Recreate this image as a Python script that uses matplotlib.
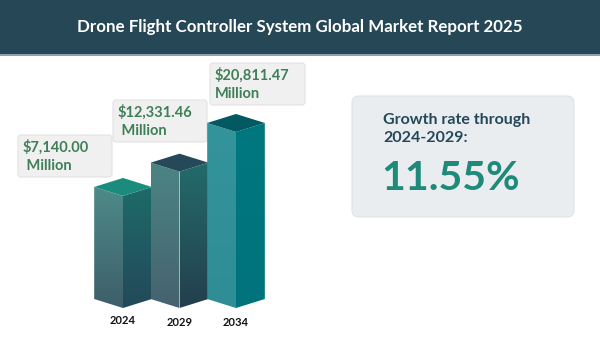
import matplotlib
matplotlib.use("Agg")
import matplotlib.pyplot as plt
import numpy as np
from matplotlib.patches import Polygon, FancyBboxPatch, Rectangle
from matplotlib.colors import LinearSegmentedColormap

# ---- data ----
years = ["2024", "2029", "2034"]
values = [7140.00, 12331.46, 20811.47]
value_labels = ["$7,140.00\n Million", "$12,331.46\n Million", "$20,811.47\nMillion"]
title = "Drone Flight Controller System Global Market Report 2025"
growth_text = "Growth rate through\n2024-2029:"
growth_value = "11.55%"

# ---- styles ----
W, H = 600, 364
FONT = "Lato"
BASELINE = -16800          # visual baseline of the infographic bars
PX_PER_UNIT = 0.00468
left_faces = [("#4d8b88", "#3e5e6a"), ("#4b8584", "#46626e"), ("#34949b", "#2f8d95")]
right_faces = [("#1d6b69", "#23495a"), ("#236b6b", "#233f4e"), ("#00777f", "#00737c")]
top_faces = ["#1a8b7d", "#26495a", "#025962"]
label_boxes = [(18, 135, 94, 42), (113, 100, 94, 42), (210, 63, 95, 42)]  # px x, y(top), w, h
GREEN = "#3f7f57"

fig = plt.figure(figsize=(W / 100, H / 100), dpi=100)
fig.patch.set_facecolor("white")

# overlay axes in pixel coordinates for decorations
deco = fig.add_axes([0, 0, 1, 1])
deco.set_xlim(0, W)
deco.set_ylim(H, 0)
deco.axis("off")

deco.add_patch(Rectangle((0, 0), W, 54, facecolor="#264756", edgecolor="none"))
deco.add_patch(Rectangle((0, 54), W, 2, facecolor="#8fa3ab", edgecolor="none"))
deco.text(W / 2, 27, title, color="white", fontsize=12.2, fontweight="bold",
          family=FONT, ha="center", va="center")

# right panel
deco.add_patch(FancyBboxPatch((352, 96), 222, 121, boxstyle="round,pad=0,rounding_size=7",
                              facecolor="#e9edef", edgecolor="#dde3e6", linewidth=0.8))
deco.text(383, 129, growth_text, color="#24475a", fontsize=11.5, fontweight="bold",
          family=FONT, ha="left", va="center", linespacing=1.45)
deco.text(381, 178, growth_value, color="#1f8a7a", fontsize=29.5, fontweight="bold",
          family=FONT, ha="left", va="center")

# bar axes
ax_left_px, ax_right_px = 63, 296
ax_top_px, ax_bot_px = 60, 335
ax = fig.add_axes([ax_left_px / W, 1 - ax_bot_px / H,
                   (ax_right_px - ax_left_px) / W, (ax_bot_px - ax_top_px) / H])
ax.axis("off")
x_px_per_unit = 56.5
x0_px = 123
xlim = ((ax_left_px - x0_px) / x_px_per_unit, (ax_right_px - x0_px) / x_px_per_unit)
base_px = 308
ylim = (BASELINE - (ax_bot_px - base_px) / PX_PER_UNIT, BASELINE + (base_px - ax_top_px) / PX_PER_UNIT)
ax.set_xlim(*xlim)
ax.set_ylim(*ylim)

hw = 0.51
d = 9 / PX_PER_UNIT


def grad_face(pts, c_top, c_bot, z):
    poly = Polygon(pts, closed=True, facecolor="none", edgecolor="none")
    ax.add_patch(poly)
    xs = [p[0] for p in pts]
    ys = [p[1] for p in pts]
    cmap = LinearSegmentedColormap.from_list("g", [c_bot, c_top])
    grad = np.linspace(0, 1, 256).reshape(-1, 1)
    im = ax.imshow(grad, extent=(min(xs), max(xs), min(ys), max(ys)), origin="lower",
                   cmap=cmap, aspect="auto", zorder=z, interpolation="bilinear")
    im.set_clip_path(poly)


for i, (yr, v) in enumerate(zip(years, values)):
    c = i
    T, B = v, BASELINE
    z = 2 + i
    left = [(c - hw, B + d), (c, B), (c, T), (c - hw, T + d)]
    right = [(c, B), (c + hw, B + d), (c + hw, T + d), (c, T)]
    top = [(c - hw, T + d), (c, T), (c + hw, T + d), (c, T + 2 * d)]
    grad_face(left, left_faces[i][0], left_faces[i][1], z)
    grad_face(right, right_faces[i][0], right_faces[i][1], z)
    ax.add_patch(Polygon(top, closed=True, facecolor=top_faces[i], edgecolor="none", zorder=z))
    ax.text(c, B - (13 + i) / PX_PER_UNIT, yr, ha="center", va="center", fontsize=8,
            fontweight="bold", family=FONT, color="#111111")

ax.set_xlim(*xlim)
ax.set_ylim(*ylim)

for (bx, by, bw, bh), lab in zip(label_boxes, value_labels):
    deco.add_patch(FancyBboxPatch((bx, by), bw, bh, boxstyle="round,pad=0,rounding_size=3",
                                  facecolor="#f0f0f0", edgecolor="#e2e2e2", linewidth=0.8, zorder=5))
    deco.text(bx + 5, by + bh / 2, lab, color=GREEN, fontsize=10.5, fontweight="bold",
              family=FONT, ha="left", va="center", linespacing=1.35, zorder=6)

fig.savefig("out.png", dpi=100, facecolor="white")
